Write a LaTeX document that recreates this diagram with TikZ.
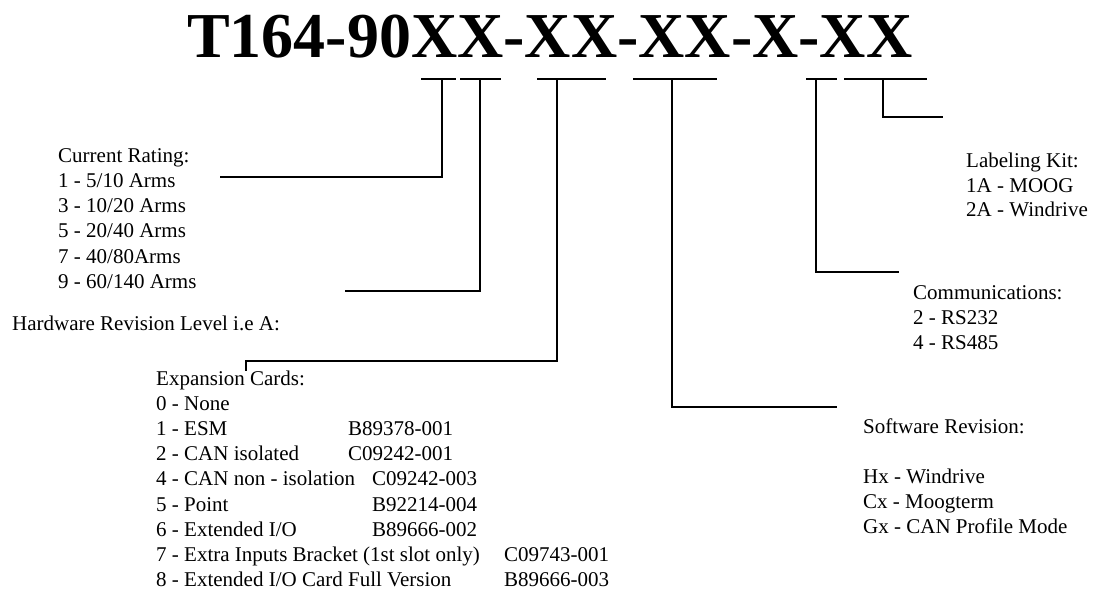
\documentclass[tikz,border=0pt]{standalone}
\usepackage{fontspec}
\setmainfont{Liberation Serif}
\begin{document}
\begin{tikzpicture}[x=1pt,y=-1pt,
  lbl/.style={anchor=base west,inner sep=0pt,font=\fontsize{21}{25}\selectfont},
  bar/.style={line width=1.5pt},
  leg/.style={line width=1.6pt}]
\useasboundingbox (0,0) rectangle (1096,590);
% title
\node[anchor=base west,inner sep=0pt,font=\fontsize{64}{70}\selectfont\bfseries] (title) at (187,57) {T164-90XX-XX-XX-X-XX};
% top bars
\coordinate (b1l) at (421,79); \coordinate (b1r) at (456,79); \coordinate (b1m) at (442,79);
\coordinate (b2l) at (460,79); \coordinate (b2r) at (501,79); \coordinate (b2m) at (480,79);
\coordinate (b3l) at (537,79); \coordinate (b3r) at (606,79); \coordinate (b3m) at (557,79);
\coordinate (b4l) at (633,79); \coordinate (b4r) at (717,79); \coordinate (b4m) at (672,79);
\coordinate (b5l) at (806,79); \coordinate (b5r) at (837,79); \coordinate (b5m) at (816,79);
\coordinate (b6l) at (844,79); \coordinate (b6r) at (927,79); \coordinate (b6m) at (883,79);
\foreach \b in {b1,b2,b3,b4,b5,b6}{\draw[bar] (\b l) -- (\b r);}
% leg ends
\coordinate (e1) at (220,177);
\coordinate (e2) at (345,291);
\coordinate (e3) at (246,371);
\coordinate (e4) at (837,407);
\coordinate (e5) at (899,272);
\coordinate (e6) at (943,117);
\draw[leg] (b1m) |- (e1);
\draw[leg] (b2m) |- (e2);
\draw[leg] (b3m) |- (246,361) -- (e3);
\draw[leg] (b4m) |- (e4);
\draw[leg] (b5m) |- (e5);
\draw[leg] (b6m) |- (e6);
% current rating
\node[lbl] (cr0) at (58,162) {Current Rating:};
\node[lbl] (cr1) at (58,187.3) {1 - 5/10 Arms};
\node[lbl] (cr2) at (58,212.6) {3 - 10/20 Arms};
\node[lbl] (cr3) at (58,237.9) {5 - 20/40 Arms};
\node[lbl] (cr4) at (58,263.2) {7 - 40/80Arms};
\node[lbl] (cr5) at (58,288.5) {9 - 60/140 Arms};
% hardware
\node[lbl] (hw) at (12,330) {Hardware Revision Level i.e A:};
% expansion cards
\node[lbl] (ec0) at (156,385) {Expansion Cards:};
\node[lbl] (ec1) at (156,410.2) {0 - None};
\node[lbl] (ec2) at (156,435.4) {1 - ESM};
\node[lbl] (ec3) at (156,460.6) {2 - CAN isolated};
\node[lbl] (ec4) at (156,485.8) {4 - CAN non - isolation};
\node[lbl] (ec5) at (156,511) {5 - Point};
\node[lbl] (ec6) at (156,536.2) {6 - Extended I/O};
\node[lbl] (ec7) at (156,561.4) {7 - Extra Inputs Bracket (1st slot only)};
\node[lbl] (ec8) at (156,586.6) {8 - Extended I/O Card Full Version};
\node[lbl] (pn2) at (348,435.4) {B89378-001};
\node[lbl] (pn3) at (348,460.6) {C09242-001};
\node[lbl] (pn4) at (372,485.8) {C09242-003};
\node[lbl] (pn5) at (372,511) {B92214-004};
\node[lbl] (pn6) at (372,536.2) {B89666-002};
\node[lbl] (pn7) at (504,561.4) {C09743-001};
\node[lbl] (pn8) at (504,586.6) {B89666-003};
% labeling kit
\node[lbl] (lk0) at (966,167.5) {Labeling Kit:};
\node[lbl] (lk1) at (966,192) {1A - MOOG};
\node[lbl] (lk2) at (966,216.5) {2A - Windrive};
% communications
\node[lbl] (cm0) at (913,299) {Communications:};
\node[lbl] (cm1) at (913,324.5) {2 - RS232};
\node[lbl] (cm2) at (913,349.5) {4 - RS485};
% software
\node[lbl] (sw0) at (863,433) {Software Revision:};
\node[lbl] (sw1) at (863,483) {Hx - Windrive};
\node[lbl] (sw2) at (863,508) {Cx - Moogterm};
\node[lbl] (sw3) at (863,533) {Gx - CAN Profile Mode};
\end{tikzpicture}
\end{document}
